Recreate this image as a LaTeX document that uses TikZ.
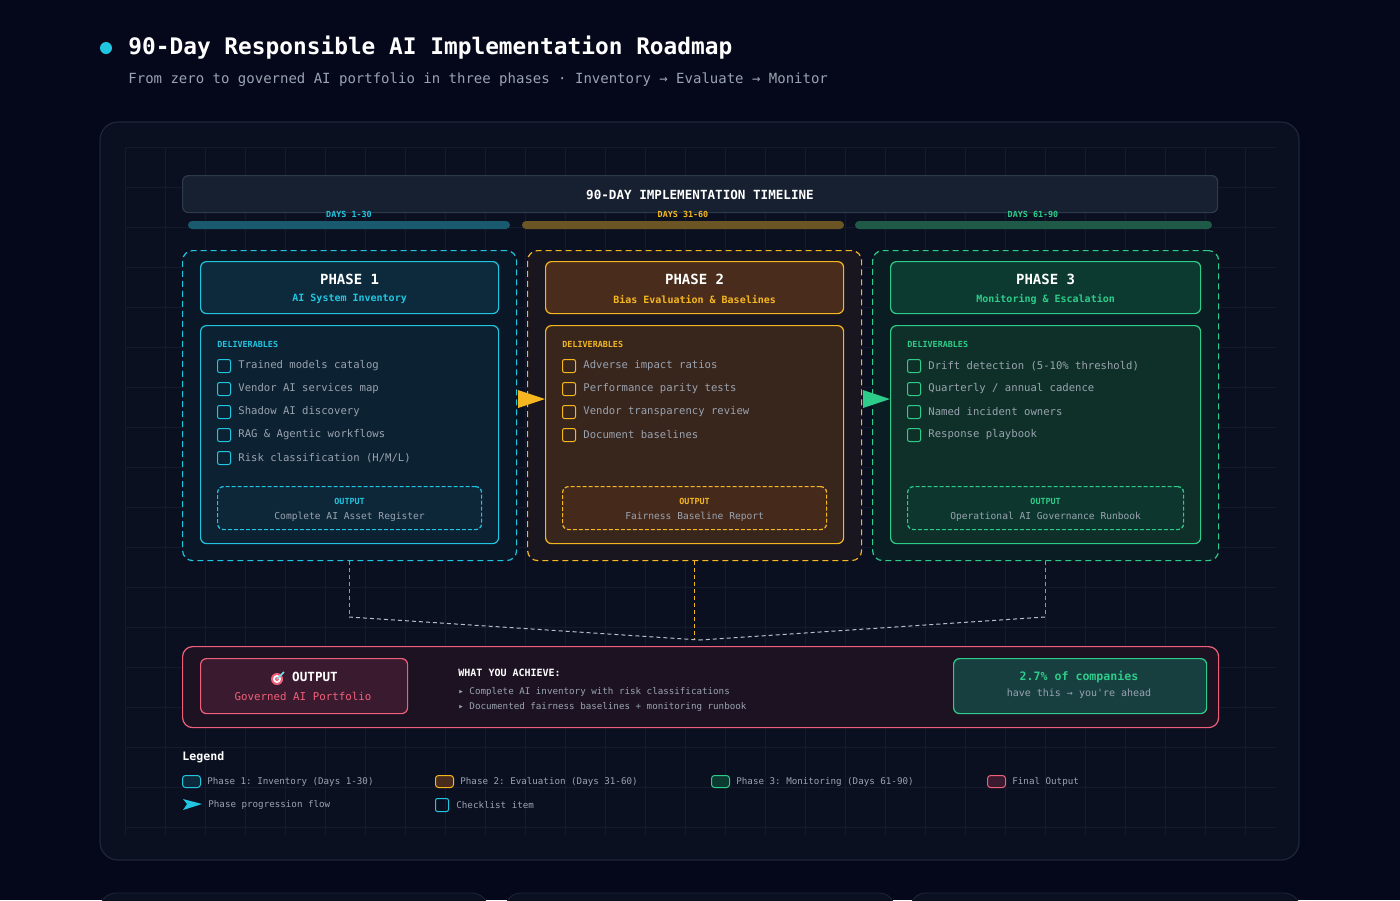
\documentclass[tikz,border=0pt]{standalone}
\usepackage{fontspec}
\setmonofont{DejaVu Sans Mono}
\usetikzlibrary{positioning,arrows.meta,shapes.geometric}
\definecolor{bgA}{HTML}{05081A}
\definecolor{panelA}{HTML}{0B1020}
\definecolor{panelLine}{HTML}{1E2638}
\definecolor{gridA}{HTML}{141B2C}
\definecolor{cyanA}{HTML}{22C5E0}
\definecolor{amberA}{HTML}{F5B720}
\definecolor{greenA}{HTML}{2ECC8A}
\definecolor{pinkA}{HTML}{F0607A}
\definecolor{greyA}{HTML}{9AA3B0}
\definecolor{tlLine}{HTML}{2C3A4A}
\definecolor{hdrA}{HTML}{0D2A3C}
\definecolor{hdrB}{HTML}{4A2C1C}
\definecolor{hdrC}{HTML}{0C3A30}
\definecolor{delA}{HTML}{0C2132}
\definecolor{delB}{HTML}{38251C}
\definecolor{delC}{HTML}{0E3028}
\definecolor{outA}{HTML}{0A1726}
\definecolor{outB}{HTML}{1A1620}
\definecolor{outC}{HTML}{0A1D22}
\tikzset{
    box/.style={rectangle, rounded corners=3pt, line width=0.6pt, anchor=north west, inner sep=0pt},
    phase/.style={box, dashed, dash pattern=on 3pt off 2pt, rounded corners=5pt},
    chk/.style={rectangle, rounded corners=1pt, draw=#1, line width=0.5pt, minimum size=6.5pt, inner sep=0pt},
    item/.style={text=greyA, font=\ttfamily\fontsize{5.3}{6}\selectfont, anchor=west, inner sep=0pt},
    tiny/.style={font=\ttfamily\bfseries\fontsize{4.2}{5}\selectfont, inner sep=0pt},
    flow/.style={dashed, dash pattern=on 2pt off 1.5pt, line width=0.5pt},
}
\begin{document}
\begin{tikzpicture}[x=0.5pt,y=-0.5pt]
\fill[bgA] (0,0) rectangle (1400,900);
\useasboundingbox (0,0) rectangle (1400,900);
% panel and grid
\draw[panelLine, fill=panelA, rounded corners=9pt, line width=0.6pt] (100,122) rectangle (1299,860);
\foreach \gx in {125,165,...,1275} \draw[gridA, line width=0.3pt] (\gx,147) -- (\gx,835);
\foreach \gy in {147,187,...,835} \draw[gridA, line width=0.3pt] (125,\gy) -- (1275,\gy);
% cards below the panel
\foreach \cx/\cw in {100/488,505/895,910/1300}
  \draw[panelLine, fill=panelA, rounded corners=8pt] (\cx,930) -- (\cx,893) -- (\cw,893) -- (\cw,930);
% title
\fill[cyanA] (106,48) circle (6);
\node[anchor=west, text=white, font=\ttfamily\bfseries\fontsize{11.4}{13}\selectfont, inner sep=0pt] (title) at (128,48) {90-Day Responsible AI Implementation Roadmap};
\node[anchor=west, text=greyA, font=\ttfamily\fontsize{7}{8}\selectfont, inner sep=0pt] (subtitle) at (128,80) {From zero to governed AI portfolio in three phases · Inventory → Evaluate → Monitor};
% timeline
\node[box, draw=tlLine, fill={rgb,255:red,23;green,32;blue,48}, minimum width=517.5pt, minimum height=18.5pt] (tl) at (182,175) {};
\node[text=white, font=\ttfamily\bfseries\fontsize{6.3}{7}\selectfont, inner sep=0pt] (tltext) at (700,195) {90-DAY IMPLEMENTATION TIMELINE};
\foreach \bx/\bw/\bc/\lx/\lab/\tc in {188/510/1A5A6E/349/DAYS 1-30/cyanA, 522/844/6B5524/683/DAYS 31-60/amberA, 855/1212/1F5A48/1033/DAYS 61-90/greenA}{
  \definecolor{barc}{HTML}{\bc}
  \fill[barc, rounded corners=2pt] (\bx,221) rectangle (\bw,229);
  \node[tiny, text=\tc] at (\lx,214) {\lab};
}
% phases
\foreach \n/\px/\pw/\col/\hf/\df/\of/\sub/\res in {
  1/182/334/cyanA/hdrA/delA/outA/AI System Inventory/Complete AI Asset Register,
  2/527/334/amberA/hdrB/delB/outB/Bias Evaluation \& Baselines/Fairness Baseline Report,
  3/872/346/greenA/hdrC/delC/outC/Monitoring \& Escalation/Operational AI Governance Runbook}{
  \node[phase, draw=\col, fill=\of, minimum width=\pw*0.5pt, minimum height=155pt] (p\n) at (\px,250) {};
  \node[box, draw=\col, fill=\hf, minimum width=\pw*0.5pt-18pt, minimum height=26pt] (h\n) at (\px+18,261) {};
  \node[text=white, font=\ttfamily\bfseries\fontsize{7}{8}\selectfont, inner sep=0pt] at ([yshift=-9pt]h\n.north) {PHASE \n};
  \node[tiny, text=\col, font=\ttfamily\bfseries\fontsize{5}{6}\selectfont] at ([yshift=-19pt]h\n.north) {\sub};
  \node[box, draw=\col, fill=\df, minimum width=\pw*0.5pt-18pt, minimum height=109pt] (d\n) at (\px+18,325) {};
  \node[tiny, text=\col, anchor=west] at (\px+35,344) {DELIVERABLES};
  \node[box, draw=\col, dashed, dash pattern=on 2pt off 1pt, fill=\hf!70!\df, minimum width=\pw*0.5pt-35pt, minimum height=21.5pt] (o\n) at (\px+35,486) {};
  \node[tiny, text=\col] at ([yshift=-7.5pt]o\n.north) {OUTPUT};
  \node[item, anchor=center, font=\ttfamily\fontsize{4.8}{5}\selectfont] at ([yshift=-15.5pt]o\n.north) {\res};
}
% deliverable items
\foreach \t [count=\k] in {Trained models catalog, Vendor AI services map, Shadow AI discovery, RAG \& Agentic workflows, Risk classification (H/M/L)}{
  \node[chk=cyanA] (ca\k) at (224,343+23*\k) {};
  \node[item, right=3.5pt of ca\k] {\t};
}
\foreach \t [count=\k] in {Adverse impact ratios, Performance parity tests, Vendor transparency review, Document baselines}{
  \node[chk=amberA] (cb\k) at (569,343+23*\k) {};
  \node[item, right=3.5pt of cb\k] {\t};
}
\foreach \t [count=\k] in {Drift detection (5-10\% threshold), Quarterly / annual cadence, Named incident owners, Response playbook}{
  \node[chk=greenA] (cc\k) at (914,343+23*\k) {};
  \node[item, right=3.5pt of cc\k] {\t};
}
% phase arrows
\fill[amberA] (518,390) -- (545,399) -- (518,408) -- cycle;
\fill[greenA] (863,390) -- (890,399) -- (863,408) -- cycle;
% final output
\node[box, draw=pinkA, fill={rgb,255:red,28;green,18;blue,34}, minimum width=518pt, minimum height=40.5pt, rounded corners=5pt] (fin) at (182,646) {};
\coordinate (join) at (700,640);
\draw[flow, cyanA] (p1.south -| 349,0) -- (349,617) coordinate (c1);
\draw[flow, greenA] (p3.south -| 1045,0) -- (1045,617) coordinate (c3);
\draw[flow, amberA] (p2.south -| 694,0) -- (694,640);
\draw[flow, greyA!70] (c1) -- (join) (c3) -- (join);
\node[box, draw=pinkA, fill={rgb,255:red,58;green,26;blue,46}, minimum width=103.5pt, minimum height=27.5pt] (fo) at (200,658) {};
\node[text=white, font=\ttfamily\bfseries\fontsize{6.3}{7}\selectfont, inner sep=0pt] (fot) at (315,677) {OUTPUT};
\foreach \r/\c in {6/pinkA,4/white,2/pinkA} \fill[\c] (277,679) circle (\r);
\draw[cyanA!60!white, line width=0.8pt] (277,679) -- (284,672);
\node[text=pinkA, font=\ttfamily\fontsize{5.4}{6}\selectfont, inner sep=0pt] at (303,696) {Governed AI Portfolio};
\node[text=white, anchor=west, font=\ttfamily\bfseries\fontsize{5}{6}\selectfont, inner sep=0pt] (wya) at (458,673) {WHAT YOU ACHIEVE:};
\node[item, font=\ttfamily\fontsize{4.6}{5}\selectfont] at (458,692) {▸ Complete AI inventory with risk classifications};
\node[item, font=\ttfamily\fontsize{4.6}{5}\selectfont] at (458,707) {▸ Documented fairness baselines + monitoring runbook};
\node[box, draw=greenA, fill={rgb,255:red,23;green,63;blue,63}, minimum width=126.5pt, minimum height=27.5pt] (stat) at (953,658) {};
\node[text=greenA, font=\ttfamily\bfseries\fontsize{5.8}{6}\selectfont, inner sep=0pt] at (1079,677) {2.7\% of companies};
\node[item, anchor=center, font=\ttfamily\fontsize{5}{6}\selectfont] at (1079,694) {have this → you're ahead};
% legend
\node[text=white, anchor=west, font=\ttfamily\bfseries\fontsize{5.8}{6}\selectfont, inner sep=0pt] (leg) at (182,757) {Legend};
\foreach \lx/\lc/\lf/\lt in {182/cyanA/hdrA/Phase 1: Inventory (Days 1-30), 435/amberA/hdrB/Phase 2: Evaluation (Days 31-60), 711/greenA/hdrC/Phase 3: Monitoring (Days 61-90), 987/pinkA/{rgb,255:red,58;green,26;blue,46}/Final Output}{
  \node[box, draw=\lc, fill=\lf, minimum width=9pt, minimum height=6pt, rounded corners=1.5pt, line width=0.5pt] (lg\lx) at (\lx,775) {};
  \node[item, font=\ttfamily\fontsize{4.6}{5}\selectfont, right=3pt of lg\lx] {\lt};
}
\fill[cyanA] (183,799) -- (202,804) -- (183,810) -- (187,804) -- cycle;
\node[item, font=\ttfamily\fontsize{4.6}{5}\selectfont] at (208,805) {Phase progression flow};
\node[chk=cyanA] (lchk) at (442,805) {};
\node[item, font=\ttfamily\fontsize{4.6}{5}\selectfont, right=3.5pt of lchk] {Checklist item};
\end{tikzpicture}
\end{document}
